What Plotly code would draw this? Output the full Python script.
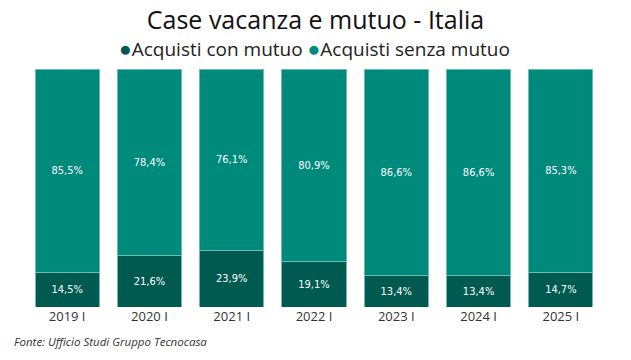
import plotly.graph_objects as go

categories = ["2019 I", "2020 I", "2021 I", "2022 I", "2023 I", "2024 I", "2025 I"]
con_mutuo = [14.5, 21.6, 23.9, 19.1, 13.4, 13.4, 14.7]
senza_mutuo = [85.5, 78.4, 76.1, 80.9, 86.6, 86.6, 85.3]
series_names = ["Acquisti con mutuo", "Acquisti senza mutuo"]

c_dark = "#005a50"
c_teal = "#008a7c"
line_c = "#6fbcb2"

def fmt(v):
    return f"{v:.1f}%".replace(".", ",")

fig = go.Figure()
for name, vals, col in [(series_names[0], con_mutuo, c_dark), (series_names[1], senza_mutuo, c_teal)]:
    fig.add_trace(go.Bar(
        x=categories, y=vals, name=name,
        marker=dict(color=col, line=dict(color=line_c, width=1)),
        text=[fmt(v) for v in vals], textposition="inside",
        insidetextanchor="middle", textangle=0,
        textfont=dict(color="white", size=11, family="DejaVu Sans Condensed, DejaVu Sans"),
        showlegend=False, hoverinfo="skip"))

legend_text = (f"<span style='color:{c_dark};font-size:21px'>●</span>{series_names[0]} "
               f"<span style='color:{c_teal};font-size:21px'>●</span>{series_names[1]}")

fig.update_layout(
    width=631, height=360,
    barmode="stack", bargap=0.22,
    paper_bgcolor="white", plot_bgcolor="white",
    margin=dict(l=26, r=29, t=69, b=53, autoexpand=False),
    font=dict(family="Open Sans, Noto Sans, sans-serif", color="#222222"),
    title=dict(text="Case vacanza e mutuo - Italia", x=0.5, xanchor="center",
               y=0.945, yanchor="middle", font=dict(size=25, color="#111111")),
    showlegend=False,
    xaxis=dict(showgrid=False, showline=False, ticks="", tickfont=dict(size=13, color="#333333")),
    yaxis=dict(range=[0, 100], visible=False, showgrid=False),
)
fig.add_annotation(text=legend_text, xref="paper", yref="paper",
                   x=0.5, y=1.088, xanchor="center", yanchor="middle", showarrow=False,
                   font=dict(size=19, color="#222222"))
fig.add_annotation(text="<i>Fonte: Ufficio Studi Gruppo Tecnocasa</i>", xref="paper", yref="paper",
                   x=-0.024, y=-0.143, xanchor="left", yanchor="middle", showarrow=False,
                   font=dict(size=11.5, color="#333333"))

fig.write_html("out.html", config={"displayModeBar": False},
               post_script="document.body.style.margin='0';")
